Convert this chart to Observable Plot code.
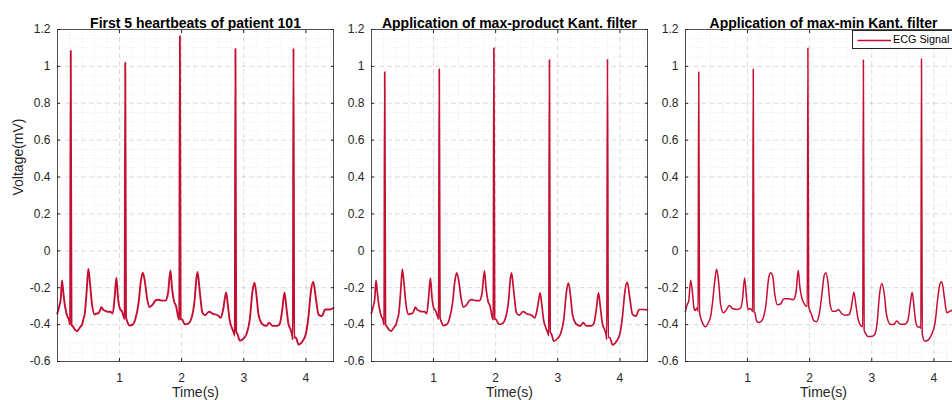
<!DOCTYPE html>
<html><head><meta charset="utf-8">
<script src="https://cdn.jsdelivr.net/npm/d3@7"></script>
<script src="https://cdn.jsdelivr.net/npm/@observablehq/plot@0.6"></script>
<style>
body{margin:0;background:#fff;}
#fig{position:relative;width:952px;height:400px;overflow:hidden;font-family:"Liberation Sans",Arial,Helvetica,sans-serif;background:#fff;}
.panel{position:absolute;top:0;}
#legend{position:absolute;left:852px;top:29.5px;width:110px;height:19px;border:0.8px solid #262626;background:#fff;box-sizing:border-box;}
#legend span{position:absolute;left:40px;top:2.5px;font-size:10.8px;color:#000;white-space:nowrap;}
#legend svg{position:absolute;left:0;top:0;}
</style></head><body><div id="fig"><div id="legend"><svg width="40" height="19"><line x1="4.5" x2="38" y1="9.5" y2="9.5" stroke="#c40e32" stroke-width="1.5"/></svg><span>ECG Signal</span></div></div>
<script>
// ---------- data ----------
const titles = ["First 5 heartbeats of patient 101", "Application of max-product Kant. filter", "Application of max-min Kant. filter"];
const xTickValues = [1, 2, 3, 4];
const yTickValues = [-0.6, -0.4, -0.2, 0, 0.2, 0.4, 0.6, 0.8, 1, 1.2];
const legendLabel = "ECG Signal";

// Raw signal (panel 1)
const tRaw = [0.000,0.032,0.055,0.075,0.095,0.113,0.129,0.160,0.185,0.205,0.216,0.228,0.250,0.290,0.320,0.344,0.375,0.397,0.420,0.440,0.472,0.499,0.526,0.558,0.601,0.630,0.655,0.690,0.708,0.740,0.773,0.810,0.853,0.891,0.923,0.950,0.977,1.004,1.041,1.070,1.083,1.093,1.105,1.122,1.160,1.213,1.256,1.310,1.342,1.374,1.406,1.444,1.481,1.535,1.578,1.620,1.658,1.700,1.739,1.781,1.820,1.846,1.878,1.911,1.945,1.962,1.972,1.984,2.008,2.051,2.105,2.158,2.212,2.235,2.256,2.292,2.335,2.378,2.442,2.507,2.577,2.630,2.673,2.716,2.743,2.775,2.807,2.845,2.855,2.866,2.878,2.898,2.936,2.990,3.044,3.097,3.140,3.172,3.204,3.237,3.301,3.365,3.408,3.462,3.543,3.580,3.623,3.655,3.687,3.720,3.752,3.780,3.790,3.800,3.812,3.838,3.881,3.945,3.999,4.042,4.080,4.118,4.160,4.203,4.257,4.310,4.386,4.444];
const vRaw = [-0.34,-0.30,-0.26,-0.16,-0.22,-0.275,-0.31,-0.355,-0.37,-0.40,1.085,-0.40,-0.41,-0.43,-0.435,-0.425,-0.41,-0.40,-0.37,-0.345,-0.22,-0.097,-0.177,-0.29,-0.345,-0.34,-0.34,-0.32,-0.305,-0.32,-0.325,-0.33,-0.33,-0.34,-0.25,-0.145,-0.257,-0.31,-0.33,-0.36,-0.37,1.02,-0.36,-0.38,-0.405,-0.40,-0.37,-0.275,-0.17,-0.118,-0.16,-0.257,-0.305,-0.292,-0.27,-0.265,-0.268,-0.27,-0.27,-0.23,-0.106,-0.204,-0.274,-0.30,-0.36,-0.375,1.165,-0.37,-0.372,-0.398,-0.395,-0.366,-0.257,-0.16,-0.115,-0.22,-0.336,-0.349,-0.33,-0.342,-0.349,-0.363,-0.31,-0.225,-0.292,-0.38,-0.416,-0.45,-0.46,1.095,-0.44,-0.45,-0.487,-0.478,-0.451,-0.372,-0.221,-0.173,-0.239,-0.345,-0.398,-0.407,-0.389,-0.407,-0.407,-0.395,-0.31,-0.225,-0.31,-0.398,-0.425,-0.46,-0.48,1.10,-0.47,-0.47,-0.508,-0.49,-0.451,-0.354,-0.221,-0.168,-0.257,-0.345,-0.354,-0.318,-0.318,-0.31];

// Max-product filter (panel 2)
const tMaxProd = tRaw;
const vMaxProd = [-0.34,-0.30,-0.26,-0.16,-0.22,-0.275,-0.31,-0.355,-0.37,-0.40,0.97,-0.40,-0.41,-0.43,-0.435,-0.425,-0.41,-0.40,-0.37,-0.345,-0.22,-0.10,-0.177,-0.29,-0.345,-0.34,-0.34,-0.32,-0.305,-0.32,-0.325,-0.33,-0.33,-0.34,-0.25,-0.148,-0.257,-0.31,-0.33,-0.36,-0.37,0.985,-0.36,-0.38,-0.405,-0.40,-0.37,-0.275,-0.17,-0.12,-0.16,-0.257,-0.305,-0.292,-0.27,-0.265,-0.268,-0.27,-0.27,-0.23,-0.108,-0.204,-0.274,-0.30,-0.36,-0.375,1.10,-0.37,-0.372,-0.398,-0.395,-0.366,-0.257,-0.16,-0.12,-0.22,-0.336,-0.349,-0.33,-0.342,-0.349,-0.363,-0.31,-0.228,-0.292,-0.38,-0.416,-0.45,-0.46,1.035,-0.44,-0.45,-0.49,-0.478,-0.451,-0.372,-0.221,-0.175,-0.239,-0.345,-0.398,-0.407,-0.389,-0.407,-0.407,-0.395,-0.31,-0.228,-0.31,-0.398,-0.425,-0.46,-0.48,1.04,-0.47,-0.47,-0.51,-0.49,-0.451,-0.354,-0.221,-0.17,-0.257,-0.345,-0.354,-0.318,-0.318,-0.32];

// Max-min filter (panel 3)
const tMaxMin = [0.000,0.032,0.054,0.086,0.118,0.139,0.161,0.182,0.205,0.216,0.228,0.263,0.290,0.322,0.370,0.408,0.440,0.472,0.504,0.536,0.568,0.611,0.654,0.708,0.760,0.836,0.890,0.922,0.954,0.986,1.008,1.040,1.075,1.083,1.093,1.105,1.120,1.147,1.190,1.243,1.297,1.340,1.372,1.404,1.441,1.479,1.533,1.586,1.672,1.736,1.779,1.817,1.843,1.876,1.908,1.940,1.962,1.972,1.984,2.031,2.069,2.111,2.154,2.197,2.235,2.262,2.294,2.331,2.369,2.423,2.465,2.519,2.583,2.637,2.669,2.712,2.744,2.776,2.808,2.845,2.855,2.865,2.877,2.905,2.937,3.000,3.044,3.087,3.124,3.162,3.200,3.237,3.296,3.350,3.404,3.457,3.527,3.580,3.618,3.650,3.682,3.709,3.741,3.780,3.790,3.800,3.812,3.858,3.912,3.966,4.019,4.062,4.100,4.127,4.170,4.207,4.261,4.330,4.444];
const vMaxMin = [-0.33,-0.29,-0.274,-0.16,-0.239,-0.31,-0.324,-0.31,-0.327,0.97,-0.33,-0.38,-0.40,-0.412,-0.39,-0.354,-0.274,-0.168,-0.10,-0.168,-0.292,-0.336,-0.324,-0.296,-0.313,-0.318,-0.31,-0.257,-0.147,-0.257,-0.318,-0.313,-0.324,-0.33,0.985,-0.33,-0.336,-0.38,-0.389,-0.372,-0.292,-0.15,-0.119,-0.133,-0.239,-0.292,-0.288,-0.26,-0.26,-0.265,-0.23,-0.106,-0.195,-0.257,-0.283,-0.30,-0.30,1.10,-0.30,-0.345,-0.38,-0.384,-0.345,-0.239,-0.133,-0.119,-0.168,-0.292,-0.327,-0.327,-0.318,-0.342,-0.349,-0.345,-0.31,-0.225,-0.292,-0.363,-0.398,-0.41,-0.41,1.035,-0.43,-0.451,-0.465,-0.464,-0.455,-0.389,-0.239,-0.177,-0.23,-0.345,-0.398,-0.40,-0.38,-0.398,-0.398,-0.38,-0.292,-0.225,-0.31,-0.389,-0.412,-0.415,-0.42,1.04,-0.45,-0.49,-0.483,-0.451,-0.389,-0.257,-0.177,-0.168,-0.257,-0.336,-0.327,-0.32,-0.32];

// ---------- drawing ----------
const COLOR = "#c40e32";
const AX = "#262626";
const xMinor = d3.range(1, 23).map(i => i * 0.2).filter(d => Math.abs(d - Math.round(d)) > 1e-6);
const yMinor = d3.range(-11, 24).map(i => i * 0.05).filter(d => Math.abs(d * 5 - Math.round(d * 5)) > 1e-6);
const fmtY = d => String(+d.toFixed(1));

function makePanel(t, v, title, withYLabel, lineWidth) {
  const data = t.map((x, i) => ({t: x, v: v[i]}));
  const marks = [
    Plot.ruleX(xMinor, {stroke: AX, strokeOpacity: 0.12, strokeDasharray: "1,2", strokeWidth: 0.8}),
    Plot.ruleY(yMinor, {stroke: AX, strokeOpacity: 0.12, strokeDasharray: "1,2", strokeWidth: 0.8}),
    Plot.ruleX(xTickValues, {stroke: AX, strokeOpacity: 0.2, strokeDasharray: "5,3", strokeWidth: 0.8}),
    Plot.ruleY(yTickValues.slice(1, -1), {stroke: AX, strokeOpacity: 0.2, strokeDasharray: "5,3", strokeWidth: 0.8}),
    Plot.line(data, {x: "t", y: "v", stroke: COLOR, strokeWidth: lineWidth, curve: "monotone-x"}),
    Plot.frame({stroke: AX, strokeWidth: 0.8}),
    Plot.axisX(xTickValues, {anchor: "bottom", tickSize: -3, tickPadding: 14.5, tickFormat: d => String(d), label: null, fontSize: 12}),
    Plot.axisX(xTickValues, {anchor: "top", tickSize: -3, tickFormat: () => "", label: null}),
    Plot.axisY(yTickValues, {anchor: "left", tickSize: -3, tickPadding: 10, tickFormat: fmtY, label: null, fontSize: 12}),
    Plot.axisY(yTickValues, {anchor: "right", tickSize: -3, tickFormat: () => "", label: null}),
    Plot.text([title], {text: d => d, frameAnchor: "top", dy: -11, fontWeight: "bold", fontSize: 14, fill: "#000"}),
    Plot.text(["Time(s)"], {text: d => d, frameAnchor: "bottom", lineAnchor: "top", dy: 26, fontSize: 14, fill: AX})
  ];
  if (withYLabel) marks.push(Plot.text(["Voltage(mV)"], {text: d => d, frameAnchor: "left", dx: -39, rotate: -90, fontSize: 14, fill: AX}));
  return Plot.plot({
    width: 343, height: 400,
    marginLeft: 57, marginRight: 10, marginTop: 29, marginBottom: 39,
    style: {fontFamily: '"Liberation Sans", Arial, Helvetica, sans-serif', fontSize: "12px", color: AX, background: "transparent", overflow: "visible"},
    x: {domain: [0.0028, 4.444]},
    y: {domain: [-0.6, 1.2]},
    marks
  });
}

const fig = document.getElementById("fig");
const legend = document.getElementById("legend");
const series = [[tRaw, vRaw], [tMaxProd, vMaxProd], [tMaxMin, vMaxMin]];
const widths = [1.9, 1.7, 1.5];
const lefts = [0, 313.5, 628];
series.forEach(([t, v], i) => {
  const svg = makePanel(t, v, titles[i], i === 0, widths[i]);
  svg.classList.add("panel");
  svg.style.left = lefts[i] + "px";
  fig.insertBefore(svg, legend);
});
legend.querySelector("span").textContent = legendLabel;
</script>
</body></html>
